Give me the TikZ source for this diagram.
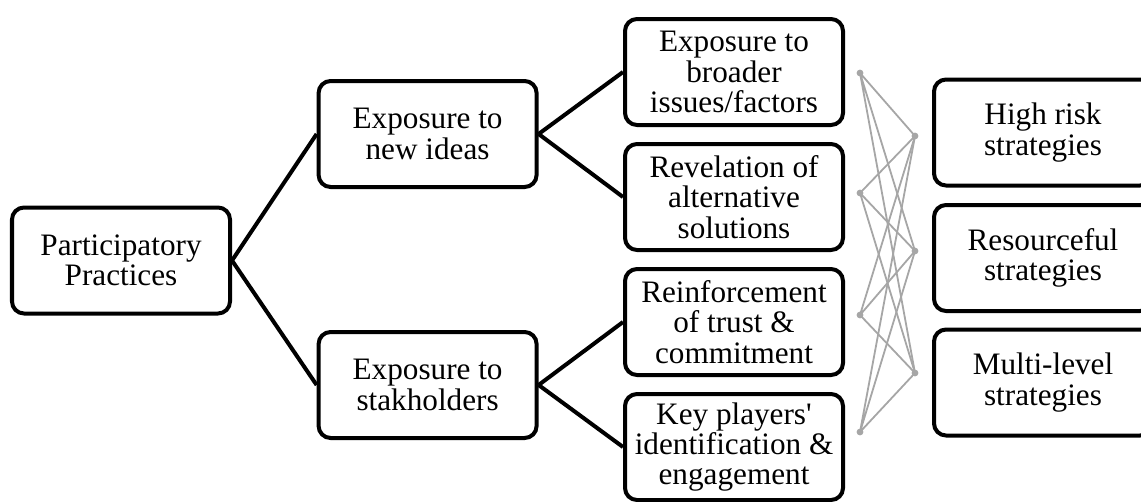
\documentclass[tikz,border=0pt]{standalone}
\usepackage{fontspec}
\setmainfont{Liberation Serif}
\usepackage{tikz}

\begin{document}
\begin{tikzpicture}[
  box/.style={draw, line width=0.1cm, rounded corners=0.3cm, align=center,
    minimum width=5.45cm, minimum height=2.65cm, inner sep=0pt,
    font=\fontsize{22.2}{21.6}\selectfont},
  link/.style={line width=0.1cm},
  dot/.style={circle, fill=gray!70, inner sep=0pt, minimum size=0.17cm},
  web/.style={gray!70, line width=0.045cm}]
\useasboundingbox (0,0) rectangle (28.525,-12.525);
\begin{scope}
\clip (0,0) rectangle (28.525,-12.525);
% first column
\node[box] (pp) at (3.025,-6.5125) {Participatory\\Practices};
% second column
\node[box] (ideas) at (10.69,-3.35) {Exposure to\\new ideas};
\node[box] (stake) at (10.69,-9.625) {Exposure to\\stakholders};
% third column
\node[box] (broad) at (18.35,-1.8) {Exposure to\\broader\\issues/factors};
\node[box] (revel) at (18.35,-4.925) {Revelation of\\alternative\\solutions};
\node[box] (reinf) at (18.35,-8.05) {Reinforcement\\of trust \&\\commitment};
\node[box] (key) at (18.35,-11.175) {Key players\textquotesingle\\identification \&\\engagement};
% strategies, running off the right edge
\node[box] (high) at (26.075,-3.3125) {High risk\\strategies};
\node[box] (res) at (26.075,-6.45) {Resourceful\\strategies};
\node[box] (multi) at (26.075,-9.5625) {Multi-level\\strategies};
\end{scope}
\draw[link] (pp.east) -- (ideas.west);
\draw[link] (pp.east) -- (stake.west);
\draw[link] (ideas.east) -- (broad.west);
\draw[link] (ideas.east) -- (revel.west);
\draw[link] (stake.east) -- (reinf.west);
\draw[link] (stake.east) -- (key.west);
% every effect links to every strategy
\coordinate (l1) at (21.5,-1.825);
\coordinate (l2) at (21.5,-4.825);
\coordinate (l3) at (21.5,-7.875);
\coordinate (l4) at (21.5,-10.8);
\coordinate (r1) at (22.875,-3.4);
\coordinate (r2) at (22.875,-6.275);
\coordinate (r3) at (22.875,-9.325);
\draw[web] (l1) -- (r1) (l1) -- (r2) (l1) -- (r3);
\draw[web] (l2) -- (r1) (l2) -- (r2) (l2) -- (r3);
\draw[web] (l3) -- (r1) (l3) -- (r2) (l3) -- (r3);
\draw[web] (l4) -- (r1) (l4) -- (r2) (l4) -- (r3);
\node[dot] (d1) at (l1) {};
\node[dot] (d2) at (l2) {};
\node[dot] (d3) at (l3) {};
\node[dot] (d4) at (l4) {};
\node[dot] (e1) at (r1) {};
\node[dot] (e2) at (r2) {};
\node[dot] (e3) at (r3) {};
\end{tikzpicture}
\end{document}
